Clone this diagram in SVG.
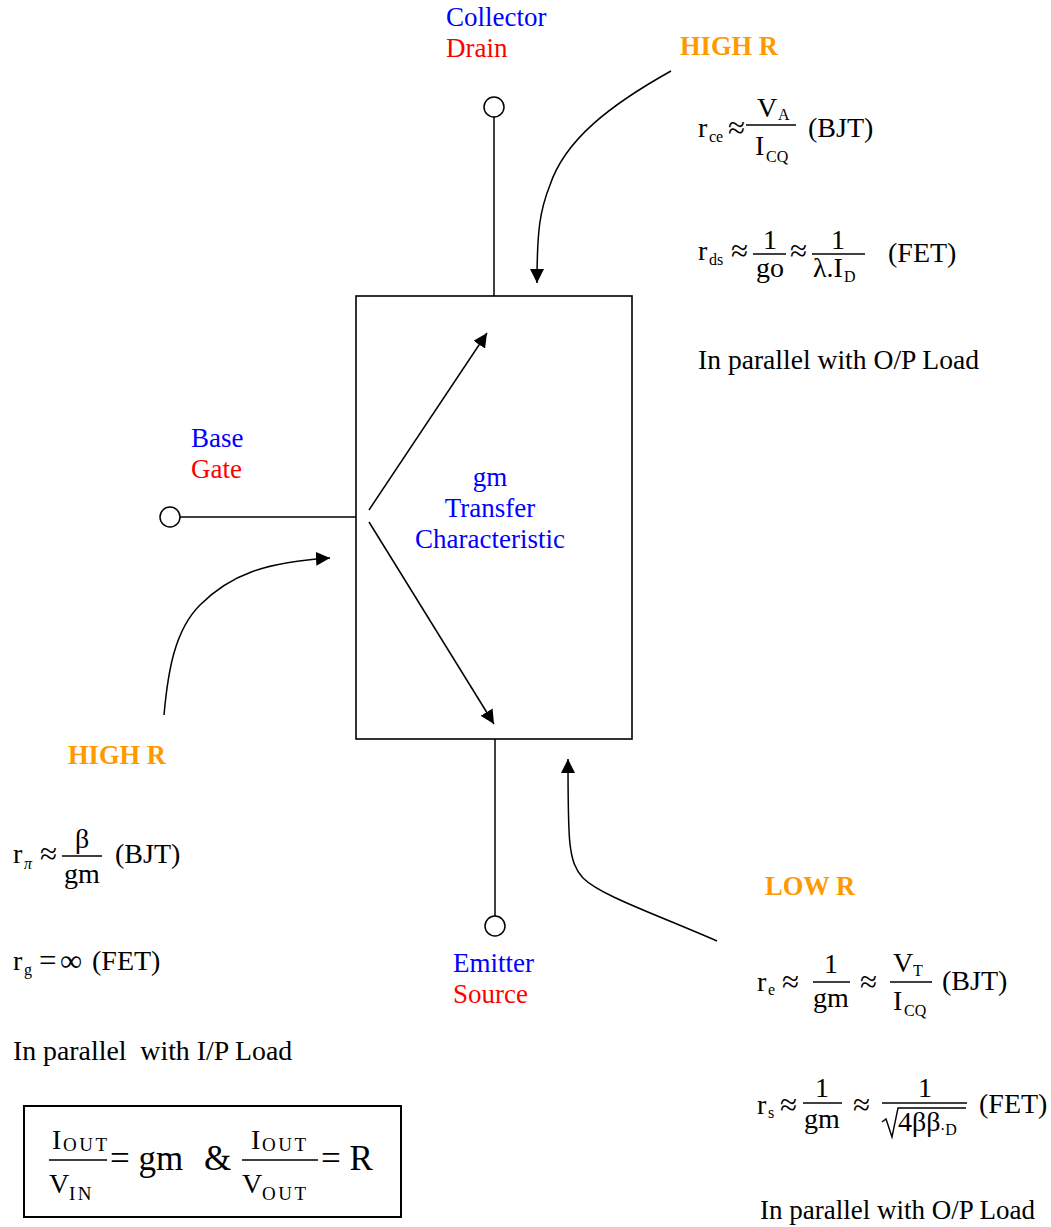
<svg xmlns="http://www.w3.org/2000/svg" width="1051" height="1227" viewBox="0 0 1051 1227">
<defs>
<marker id="ah" markerUnits="userSpaceOnUse" markerWidth="15" markerHeight="14" refX="14" refY="7" orient="auto">
<path d="M0,0 L14,7 L0,14 z" fill="#000"/>
</marker>
</defs>
<style>
text{font-family:"Liberation Serif","Times New Roman",serif;font-size:27px;fill:#000}
.blue{fill:#0000FF}
.red{fill:#FF0000}
.hr{fill:#FF9900;font-weight:bold;font-size:26.5px}
.f{font-size:28px}
.ap{font-size:31px}
.sub{font-size:16px}
.bsub{font-size:19px;letter-spacing:2.5px}
.big{font-size:35px}
.mid{text-anchor:middle}
.ln{stroke:#000;stroke-width:1.5;fill:none}
.fr{stroke:#000;stroke-width:1.4}
.term{fill:#fff;stroke:#000;stroke-width:1.5}
.arr{stroke:#000;stroke-width:1.5;fill:none;marker-end:url(#ah)}
</style>
<rect width="1051" height="1227" fill="#fff"/>

<g id="connectors">
<line class="ln" x1="494" y1="117" x2="494" y2="296"/>
<line class="ln" x1="180" y1="517" x2="356" y2="517"/>
<line class="ln" x1="495" y1="739" x2="495" y2="916"/>
<path class="arr" d="M671,71 C610,105 565,140 550,185 C540,210 537,230 537,283"/>
<path class="arr" d="M164,715 C168,670 175,630 200,605 C230,575 265,562 330,558"/>
<path class="arr" d="M717,941 C650,912 600,895 583,878 C568,862 568,840 568,759"/>
<line class="arr" x1="369" y1="510" x2="487" y2="333"/>
<line class="arr" x1="369" y1="522" x2="494" y2="724"/>
</g>

<g id="transistor">
<rect x="356" y="296" width="276" height="443" fill="none" stroke="#000" stroke-width="1.6"/>
<text class="blue mid" x="490" y="486">gm</text>
<text class="blue mid" x="490" y="517">Transfer</text>
<text class="blue mid" x="490" y="548">Characteristic</text>
</g>

<g id="collector">
<circle class="term" cx="494" cy="107" r="10"/>
<text class="blue" x="446" y="26">Collector</text>
<text class="red" x="446" y="57">Drain</text>
</g>

<g id="base">
<circle class="term" cx="170" cy="517" r="10"/>
<text class="blue" x="191" y="447">Base</text>
<text class="red" x="191" y="478">Gate</text>
</g>

<g id="emitter">
<circle class="term" cx="495" cy="926" r="10"/>
<text class="blue" x="453" y="972">Emitter</text>
<text class="red" x="453" y="1003">Source</text>
</g>

<g id="output-resistance">
<text class="hr" x="680" y="55">HIGH R</text>
<text class="f" x="698" y="137">r</text><text class="sub" x="709" y="142">ce</text>
<text class="ap" x="728" y="138">≈</text>
<line class="fr" x1="746" y1="125" x2="796" y2="125"/>
<text class="f" x="757" y="117">V</text><text class="sub" x="778" y="120">A</text>
<text class="f" x="755" y="155">I</text><text class="sub" x="766" y="162">CQ</text>
<text class="f" x="808" y="137">(BJT)</text>
<text class="f" x="698" y="260">r</text><text class="sub" x="709" y="265">ds</text>
<text class="ap" x="731" y="261">≈</text>
<line class="fr" x1="753" y1="254" x2="786" y2="254"/>
<text class="f mid" x="770" y="249">1</text>
<text class="f mid" x="770" y="277">go</text>
<text class="ap" x="790" y="261">≈</text>
<line class="fr" x1="812" y1="254" x2="865" y2="254"/>
<text class="f mid" x="838" y="249">1</text>
<text class="f" x="813" y="277">λ.I</text><text class="sub" x="844" y="282">D</text>
<text class="f" x="888" y="262">(FET)</text>
<text x="698" y="369" style="font-size:27.6px">In parallel with O/P Load</text>
</g>

<g id="input-resistance">
<text class="hr" x="68" y="764">HIGH R</text>
<text class="f" x="13" y="863">r</text><text class="sub" x="24" y="869" font-style="italic">π</text>
<text class="ap" x="40" y="864">≈</text>
<line class="fr" x1="62" y1="856" x2="102" y2="856"/>
<text class="f mid" x="82" y="848">β</text>
<text class="f mid" x="82" y="883">gm</text>
<text class="f" x="115" y="863">(BJT)</text>
<text class="f" x="13" y="970">r</text><text class="sub" x="24" y="975">g</text>
<text class="ap" x="39" y="971">=</text>
<text class="ap" x="60" y="971">∞</text>
<text class="f" x="92" y="970">(FET)</text>
<text x="13" y="1060" xml:space="preserve" style="font-size:27.8px">In parallel  with I/P Load</text>
</g>

<g id="emitter-resistance">
<text class="hr" x="765" y="895">LOW R</text>
<text class="f" x="757" y="991">r</text><text class="sub" x="768" y="995">e</text>
<text class="ap" x="782" y="992">≈</text>
<line class="fr" x1="813" y1="982" x2="850" y2="982"/>
<text class="f mid" x="831" y="973">1</text>
<text class="f mid" x="831" y="1007">gm</text>
<text class="ap" x="860" y="992">≈</text>
<line class="fr" x1="890" y1="982" x2="932" y2="982"/>
<text class="f" x="893" y="972">V</text><text class="sub" x="913" y="976">T</text>
<text class="f" x="893" y="1010">I</text><text class="sub" x="904" y="1016">CQ</text>
<text class="f" x="942" y="990">(BJT)</text>
<text class="f" x="757" y="1114">r</text><text class="sub" x="768" y="1118">s</text>
<text class="ap" x="780" y="1115">≈</text>
<line class="fr" x1="803" y1="1103" x2="842" y2="1103"/>
<text class="f mid" x="822" y="1097">1</text>
<text class="f mid" x="822" y="1128">gm</text>
<text class="ap" x="853" y="1115">≈</text>
<line class="fr" x1="882" y1="1103" x2="967" y2="1103"/>
<text class="f mid" x="925" y="1097">1</text>
<path d="M882,1122 L886,1119 L892,1137 L898,1108 L966,1108" fill="none" stroke="#000" stroke-width="1.4"/>
<text class="f" x="898" y="1131">4ββ</text><text class="sub" x="940" y="1135">·D</text>
<text class="f" x="979" y="1113">(FET)</text>
<text x="760" y="1219">In parallel with O/P Load</text>
</g>

<g id="definition-box">
<rect x="24" y="1106" width="377" height="111" fill="none" stroke="#000" stroke-width="2"/>
<line class="fr" x1="49" y1="1160" x2="107" y2="1160"/>
<text class="f" x="52" y="1149">I</text><text class="bsub" x="63" y="1151">OUT</text>
<text class="f" x="49" y="1193">V</text><text class="bsub" x="69" y="1200">IN</text>
<text class="big" x="110" y="1170">= gm</text>
<text class="big" x="204" y="1170">&amp;</text>
<line class="fr" x1="242" y1="1160" x2="318" y2="1160"/>
<text class="f" x="251" y="1149">I</text><text class="bsub" x="262" y="1151">OUT</text>
<text class="f" x="242" y="1193">V</text><text class="bsub" x="262" y="1200">OUT</text>
<text class="big" x="321" y="1170">= R</text>
</g>
</svg>
